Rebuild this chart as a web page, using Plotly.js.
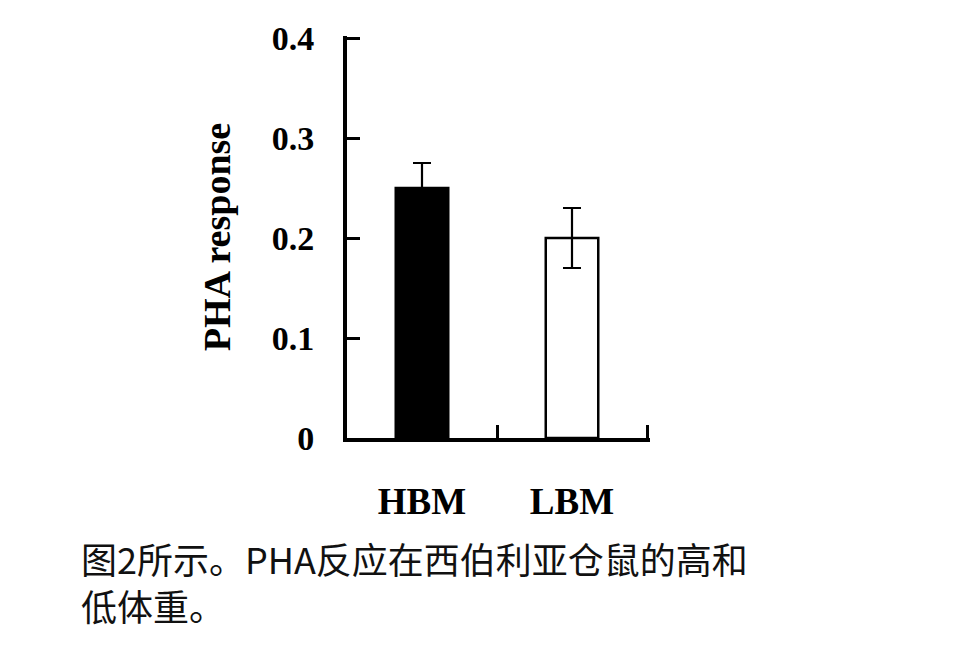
<!DOCTYPE html>
<html>
<head>
<meta charset="utf-8">
<script src="https://cdn.plot.ly/plotly-3.0.1.min.js"></script>
<style>
  body { margin: 0; background: #fff; }
  #plot { width: 958px; height: 660px; }
</style>
</head>
<body>
<div id="plot"></div>
<script>
// groups and values
let groups = ['HBM', 'LBM'];
let response = [0.25, 0.2];
let errors = [0.025, 0.03];
let barColors = ['#000000', '#ffffff'];
let caption = '图2所示。PHA反应在西伯利亚仓鼠的高和<br>低体重。';

let serif = 'Liberation Serif, Times New Roman, serif';

// ranges run a hair past the last tick so plotly keeps the inside ticks at the ends
Plotly.newPlot('plot', [{
        type: 'bar',
        x: groups,
        y: response,
        width: 0.35,
        marker: {color: barColors, line: {color: '#000', width: 2.5}},
        error_y: {
            type: 'data',
            array: errors,
            visible: true,
            color: '#000',
            thickness: 2.2,
            width: 9
        },
        hoverinfo: 'none'
    }], {
        width: 958,
        height: 660,
        margin: {l: 347, r: 308, t: 36, b: 222},
        paper_bgcolor: '#fff',
        plot_bgcolor: '#fff',
        showlegend: false,
        xaxis: {
            type: 'category',
            range: [-0.5, 1.52],
            tickson: 'boundaries',
            ticks: 'inside',
            ticklen: 13,
            tickwidth: 3,
            tickcolor: '#000',
            showline: true,
            linecolor: '#000',
            linewidth: 4,
            showgrid: false,
            zeroline: false,
            ticklabelstandoff: 28,
            tickfont: {family: serif, size: 37, color: '#000', weight: 'bold'}
        },
        yaxis: {
            range: [0, 0.402],
            tick0: 0,
            dtick: 0.1,
            ticks: 'inside',
            ticklen: 13,
            tickwidth: 3,
            tickcolor: '#000',
            showline: true,
            linecolor: '#000',
            linewidth: 4,
            showgrid: false,
            zeroline: false,
            ticklabelstandoff: 22,
            tickfont: {family: serif, size: 34, color: '#000', weight: 'bold'},
            title: {
                text: 'PHA response',
                standoff: 30,
                font: {family: serif, size: 38, color: '#000', weight: 'bold'}
            }
        },
        annotations: [{
            text: caption,
            xref: 'paper',
            yref: 'paper',
            x: -0.885,
            y: -0.228,
            xanchor: 'left',
            yanchor: 'top',
            align: 'left',
            showarrow: false,
            font: {family: 'Noto Sans CJK SC, sans-serif', size: 36, color: '#111'}
        }]
    }, {staticPlot: true});
</script>
</body>
</html>
